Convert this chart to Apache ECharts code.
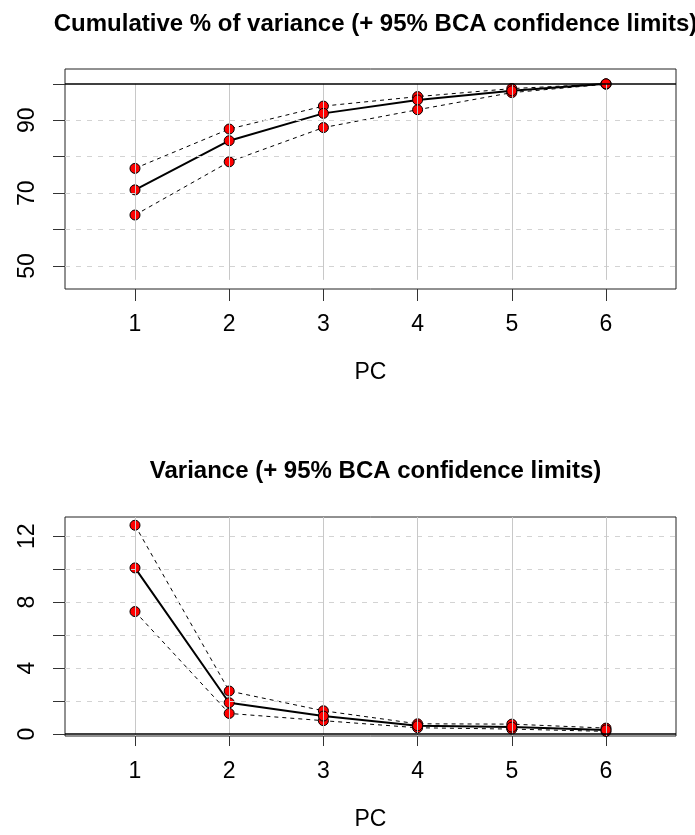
<!DOCTYPE html>
<html>
<head>
    <meta charset="utf-8">
    <title>PCA variance with BCA limits</title>
    <script src="https://cdn.jsdelivr.net/npm/echarts@6/dist/echarts.min.js"></script>
</head>
<body style="margin:0">
    <div id="main" style="width:695px;height:835px;"></div>
    <script type="text/javascript">
        // principal components
        var pcs = [1, 2, 3, 4, 5, 6];
        // cumulative % of variance
        var cumMean = [70.9, 84.4, 91.9, 95.6, 98.1, 100];
        var cumLower = [64.0, 78.6, 88.0, 92.9, 97.6, 99.9];
        var cumUpper = [76.8, 87.6, 93.9, 96.5, 98.7, 100];
        // variance
        var varMean = [10.08, 1.90, 1.09, 0.50, 0.42, 0.25];
        var varLower = [7.43, 1.25, 0.81, 0.38, 0.30, 0.16];
        var varUpper = [12.67, 2.61, 1.41, 0.62, 0.60, 0.36];
        // ticks / labels
        var cumTicks = [50, 60, 70, 80, 90, 100];
        var cumLabels = [50, 70, 90];
        var varTicks = [0, 2, 4, 6, 8, 10, 12];
        var varLabels = [0, 4, 8, 12];
        var cumGrid = [50, 60, 70, 80, 90];
        var varGrid = [2, 4, 6, 8, 10, 12];

        var font = 'Liberation Sans';

        function pts(ys) {
            return pcs.map(function (x, i) { return [x, ys[i]]; });
        }

        function ciSeries(ys, k, dashed) {
            return {
                type: 'line',
                xAxisIndex: k, yAxisIndex: k,
                data: pts(ys),
                symbol: 'circle',
                symbolSize: 10,
                itemStyle: { color: '#ff0000', borderColor: '#000', borderWidth: 1 },
                lineStyle: dashed ? { color: '#000', width: 1, type: [4, 4] } : { color: '#000', width: 2 },
                z: dashed ? 3 : 4,
                animation: false,
                silent: true
            };
        }

        // background reference lines for one panel
        function guideSeries(k, hgrid, hline, vFrom, vTo) {
            var md = hgrid.map(function (v) {
                return { yAxis: v, lineStyle: { color: '#d3d3d3', width: 1, type: [5, 6] } };
            });
            pcs.forEach(function (x) {
                md.push([{ coord: [x, vFrom], lineStyle: { color: '#c8c8c8', width: 1, type: 'solid' } },
                         { coord: [x, vTo] }]);
            });
            md.push({ yAxis: hline, lineStyle: { color: '#000', width: 1.6, type: 'solid' } });
            return {
                type: 'line', xAxisIndex: k, yAxisIndex: k, data: [], z: 1,
                silent: true, animation: false,
                markLine: { symbol: 'none', silent: true, animation: false, label: { show: false }, data: md }
            };
        }

        function xAx(k) {
            return {
                type: 'value', gridIndex: k, min: 0.257, max: 6.743,
                name: 'PC', nameLocation: 'middle', nameGap: 72,
                nameTextStyle: { fontFamily: font, fontSize: 23, color: '#000' },
                axisLine: { show: false },
                axisTick: { show: true, length: 12, customValues: pcs, lineStyle: { color: '#333' } },
                axisLabel: { customValues: pcs, margin: 24, fontFamily: font, fontSize: 23, color: '#000' },
                splitLine: { show: false }
            };
        }

        function yAx(k, mn, mx, ticks, labels) {
            return {
                type: 'value', gridIndex: k, min: mn, max: mx,
                axisLine: { show: false },
                axisTick: { show: true, length: 12, customValues: ticks, lineStyle: { color: '#333' } },
                axisLabel: { customValues: labels, rotate: 90, margin: 26, fontFamily: font, fontSize: 23, color: '#000' },
                splitLine: { show: false }
            };
        }

        var myChart = echarts.init(document.getElementById('main'), null, { renderer: 'canvas' });
        var option = {
            backgroundColor: '#fff',
            title: [{
                text: 'Cumulative % of variance (+ 95% BCA confidence limits)',
                left: 370.5, top: 7, textAlign: 'center',
                textStyle: { fontFamily: font, fontSize: 24, fontWeight: 'bold', color: '#000' }
            }, {
                text: 'Variance (+ 95% BCA confidence limits)',
                left: 370.5, top: 454, textAlign: 'center',
                textStyle: { fontFamily: font, fontSize: 24, fontWeight: 'bold', color: '#000' }
            }],
            grid: [
                { left: 65, right: 19, top: 69, height: 220, show: true, borderColor: '#222', borderWidth: 1, backgroundColor: 'transparent' },
                { left: 65, right: 19, top: 517, height: 219, show: true, borderColor: '#222', borderWidth: 1, backgroundColor: 'transparent' }
            ],
            xAxis: [xAx(0), xAx(1)],
            yAxis: [
                yAx(0, 43.69, 104.08, cumTicks, cumLabels),
                yAx(1, -0.12, 13.17, varTicks, varLabels)
            ],
            series: [
                guideSeries(0, cumGrid, 100, 46.2, 100),
                ciSeries(cumLower, 0, true),
                ciSeries(cumUpper, 0, true),
                ciSeries(cumMean, 0, false),
                guideSeries(1, varGrid, 0, -0.12, 13.17),
                ciSeries(varLower, 1, true),
                ciSeries(varUpper, 1, true),
                ciSeries(varMean, 1, false)
            ]
        };
        myChart.setOption(option);
    </script>
</body>
</html>
